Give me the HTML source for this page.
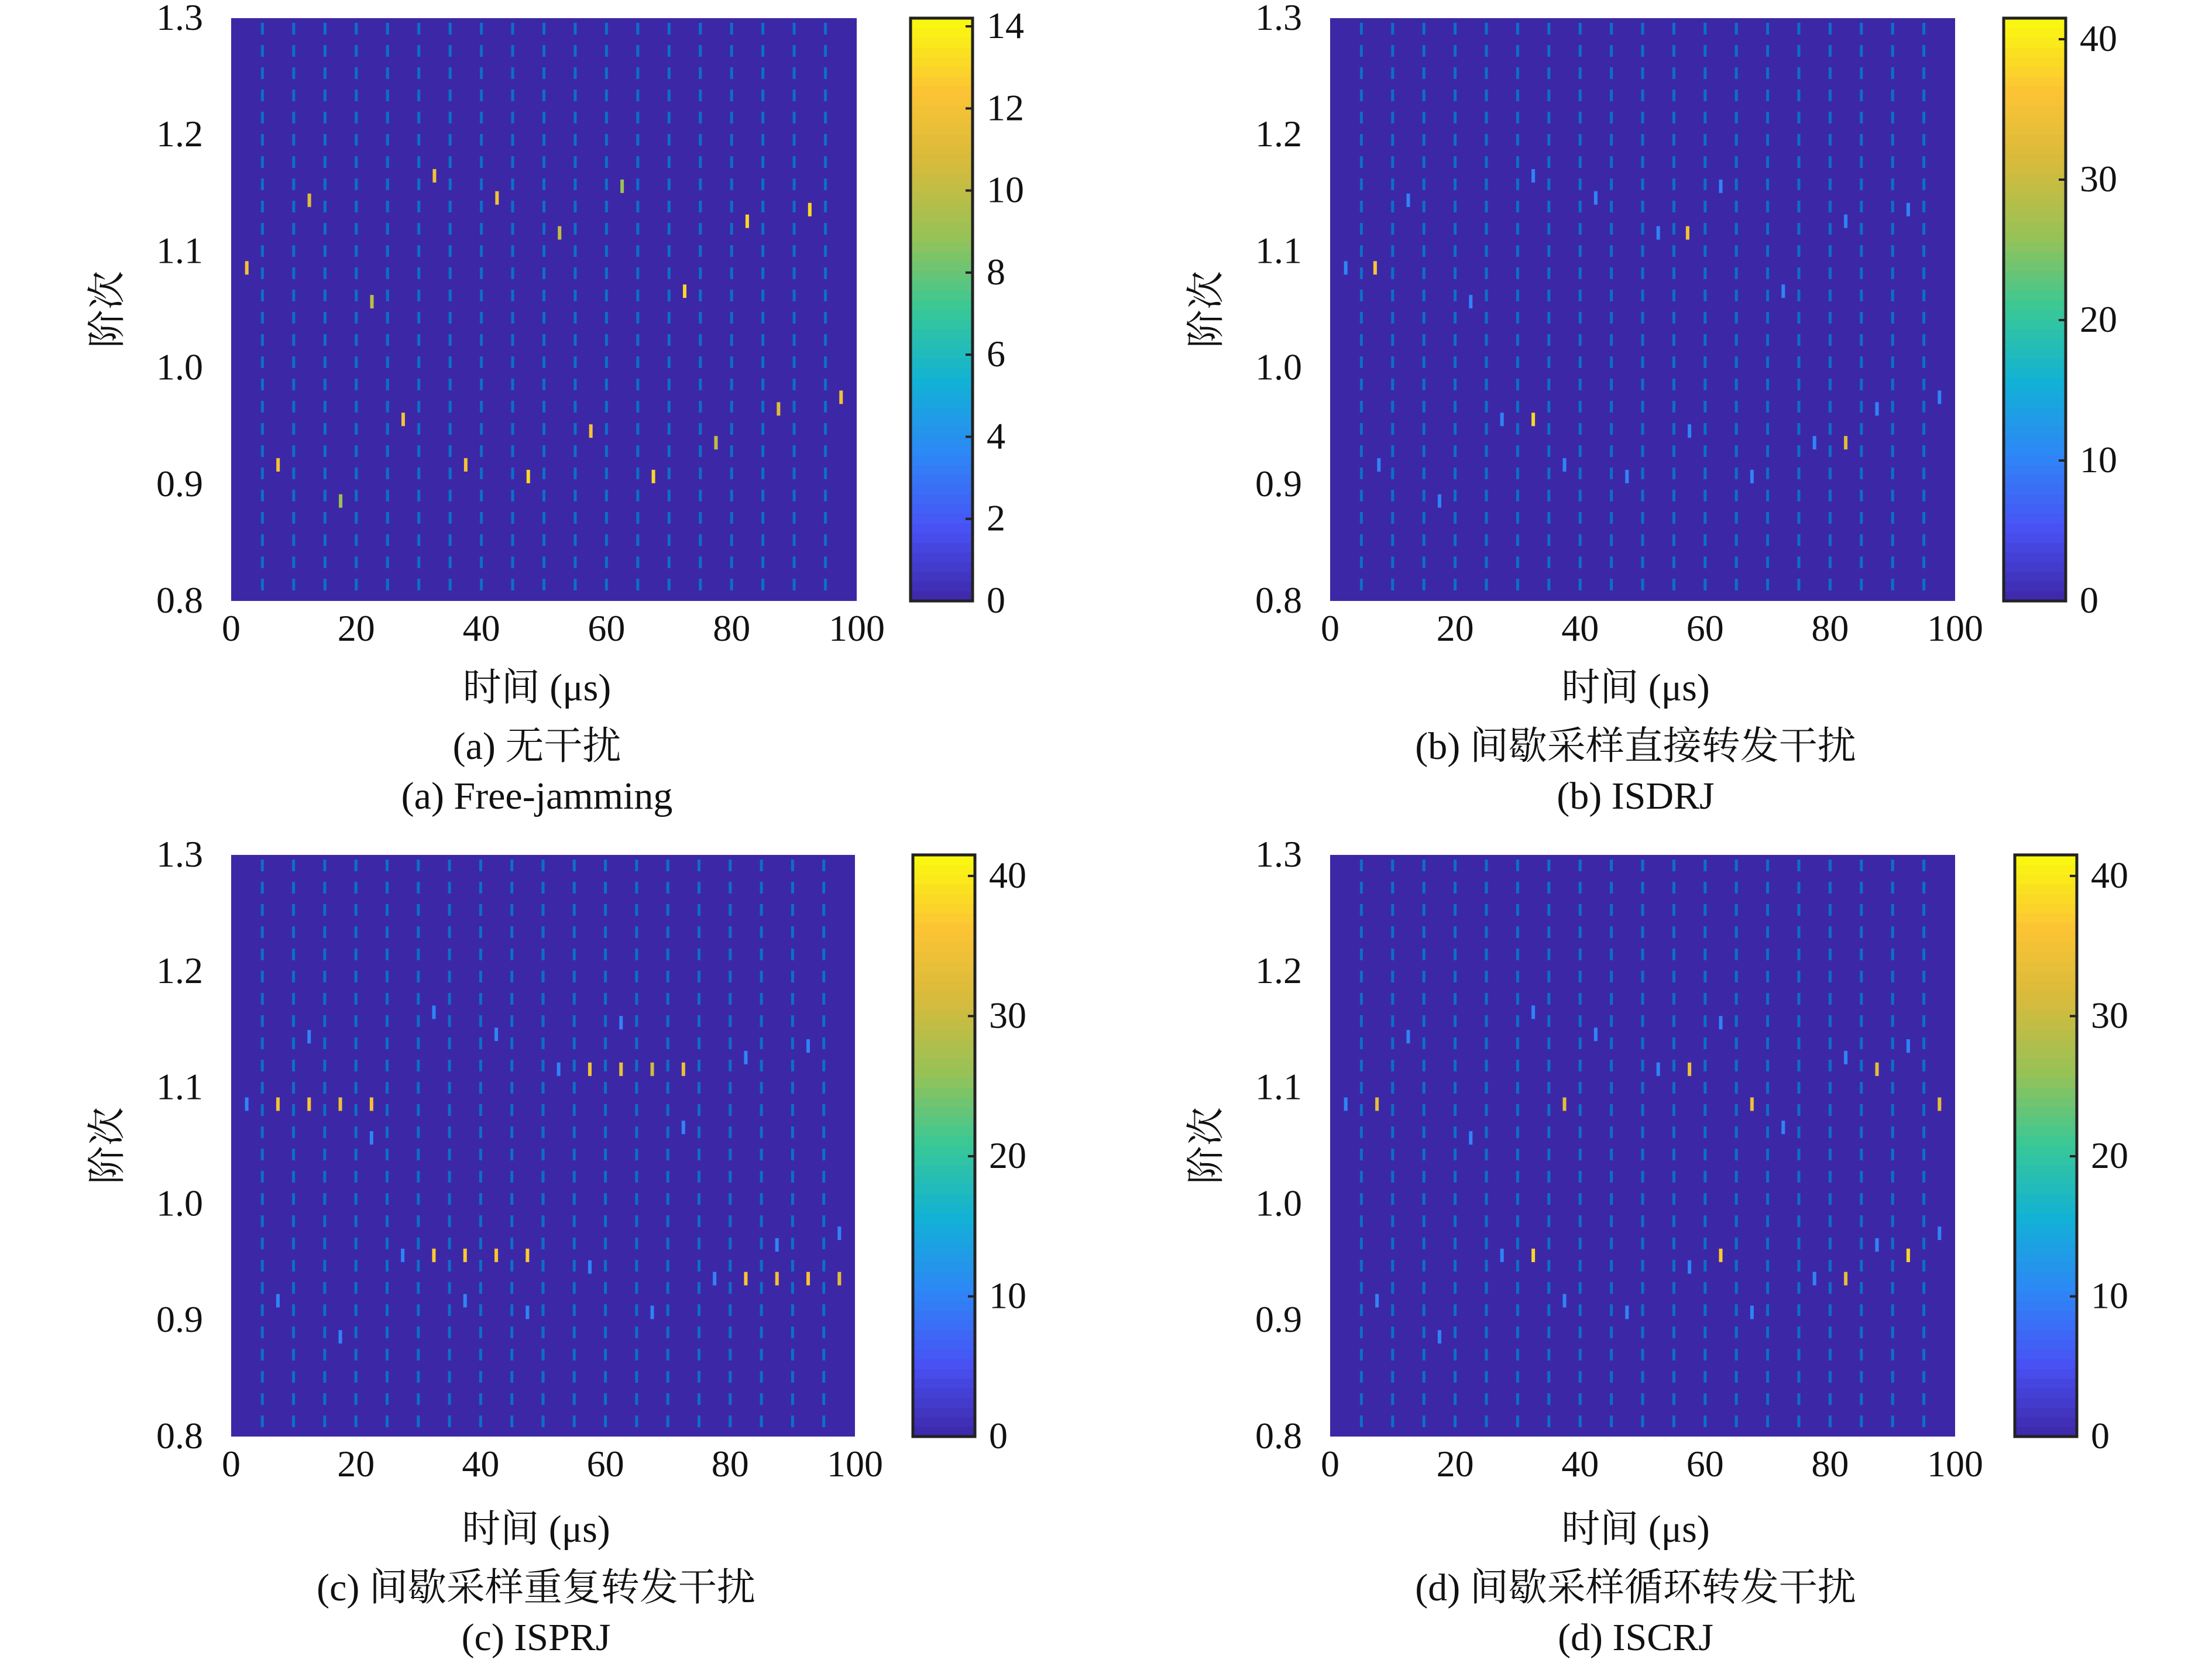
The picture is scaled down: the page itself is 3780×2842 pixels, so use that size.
<!DOCTYPE html>
<html><head><meta charset="utf-8"><style>
html,body{margin:0;padding:0;background:#fff;}
svg{display:block;}
text{font-family:"Liberation Serif","Noto Serif CJK SC",serif;fill:#111;}
</style></head><body>
<svg id="fig" width="3780" height="2842" viewBox="0 0 3780 2842" xmlns="http://www.w3.org/2000/svg"></svg>
<script>
// ---- data ----
const xTicks = [0,20,40,60,80,100];
const yTicks = [0.8,0.9,1.0,1.1,1.2,1.3];
const cbTicksA = [0,2,4,6,8,10,12,14];
const cbTicksB = [0,10,20,30,40];
const dashTimes = [5,10,15,20,25,30,35,40,45,50,55,60,65,70,75,80,85,90,95];

const aTimes  = [2.5,7.5,12.5,17.5,22.5,27.5,32.5,37.5,42.5,47.5,52.5,57.5,62.5,67.5,72.5,77.5,82.5,87.5,92.5,97.5];
const aOrders = [1.086,0.917,1.144,0.886,1.057,0.956,1.165,0.917,1.146,0.907,1.116,0.946,1.156,0.907,1.066,0.936,1.126,0.965,1.136,0.975];
const aValues = [12,12,11,9,10,12,12,12,12,13,10,12,9,13,13,10,13,11,13,12];

const bTimes  = [2.5,7.2,7.8,12.5,17.5,22.5,27.5,32.5,32.5,37.5,42.5,47.5,52.5,57.2,57.5,62.5,67.5,72.5,77.5,82.5,82.5,87.5,92.5,97.5];
const bOrders = [1.086,1.086,0.917,1.144,0.886,1.057,0.956,0.956,1.165,0.917,1.146,0.907,1.116,1.116,0.946,1.156,0.907,1.066,0.936,0.936,1.126,0.965,1.136,0.975];
const bValues = [10,36,10,10,10,10,10,38,10,10,10,10,10,35,10,10,10,10,10,32,10,10,10,10];

const cTimes  = [2.5,7.5,12.5,17.5,22.5,7.5,12.5,17.5,22.5,27.5,32.5,37.5,42.5,47.5,32.5,37.5,42.5,47.5,52.5,57.5,62.5,67.5,72.5,57.5,62.5,67.5,72.5,77.5,82.5,87.5,92.5,97.5,82.5,87.5,92.5,97.5];
const cOrders = [1.086,1.086,1.086,1.086,1.086,0.917,1.144,0.886,1.057,0.956,0.956,0.956,0.956,0.956,1.165,0.917,1.146,0.907,1.116,1.116,1.116,1.116,1.116,0.946,1.156,0.907,1.066,0.936,0.936,0.936,0.936,0.936,1.126,0.965,1.136,0.975];
const cValues = [10,35,36,34,35,10,10,10,10,10,37,37,36,37,10,10,10,10,10,35,34,31,34,10,10,10,10,10,36,35,36,33,10,10,10,10];

const dTimes  = [2.5,7.5,7.5,12.5,17.5,22.5,27.5,32.5,32.5,37.5,37.5,42.5,47.5,52.5,57.5,57.5,62.5,62.5,67.5,67.5,72.5,77.5,82.5,82.5,87.5,87.5,92.5,92.5,97.5,97.5];
const dOrders = [1.086,1.086,0.917,1.144,0.886,1.057,0.956,0.956,1.165,1.086,0.917,1.146,0.907,1.116,1.116,0.946,0.956,1.156,1.086,0.907,1.066,0.936,0.936,1.126,1.116,0.965,0.956,1.136,1.086,0.975];
const dValues = [10,33,10,10,10,10,10,38,10,33,10,10,10,10,34,10,37,10,34,10,10,10,33,10,33,10,38,10,33,10];

// ---- helpers ----
const NS="http://www.w3.org/2000/svg";
const svg=document.getElementById('fig');
function mk(tag,attrs,parent){const e=document.createElementNS(NS,tag);for(const k in attrs)e.setAttribute(k,attrs[k]);(parent||svg).appendChild(e);return e;}
const stops=[[0,[62,38,168]],[0.125,[72,82,244]],[0.25,[46,135,247]],[0.375,[18,177,214]],[0.5,[55,200,151]],[0.625,[151,194,86]],[0.75,[214,186,60]],[0.875,[252,196,52]],[1,[249,251,14]]];
function parula(f){f=Math.max(0,Math.min(1,f));for(let i=1;i<stops.length;i++){if(f<=stops[i][0]){const a=stops[i-1],b=stops[i];const t=(f-a[0])/(b[0]-a[0]);const c=a[1].map((v,j)=>Math.round(v+(b[1][j]-v)*t));return `rgb(${c[0]},${c[1]},${c[2]})`;}}return 'rgb(249,251,14)';}

function panel(p){
  const g=mk('g',{});
  
  
  const X=t=>p.x0+(t-0)/(100)*(p.x1-p.x0);
  const Y=o=>p.y1-(o-0.8)/(0.5)*(p.y1-p.y0);
  const bg=mk('rect',{x:p.x0,y:p.y0,width:p.x1-p.x0,height:p.y1-p.y0,fill:'rgb(60,40,166)'},g);
  
  
  dashTimes.forEach(t=>{
    const l=mk('line',{x1:X(t),x2:X(t),y1:p.y0+8,y2:p.y1,stroke:'rgb(12,111,200)','stroke-width':5,'stroke-dasharray':'20 18'},g);
    
    
  });
  p.times.forEach((t,i)=>{
    const r=mk('rect',{x:X(t)-3,y:Y(p.orders[i])-11,width:6,height:23,fill:parula(p.values[i]/p.vmax)},g);
    
    
  });
  xTicks.forEach(v=>{
    const t=mk('text',{x:X(v),y:p.y1+68,'font-size':64,'text-anchor':'middle'},g);t.textContent=String(v);
    
    
  });
  yTicks.forEach(v=>{
    const t=mk('text',{x:p.x0-48,y:Y(v)+20,'font-size':64,'text-anchor':'end'},g);t.textContent=v.toFixed(1);
    
    
  });
  const cx=(p.x0+p.x1)/2;
  const xl=mk('text',{x:cx-12,y:p.y1+170+p.dy,'font-size':66,'text-anchor':'middle'},g);xl.textContent='时间 (μs)';
  
  
  const yc=(p.y0+p.y1)/2;
  const yl=mk('text',{x:p.x0-190,y:yc,'font-size':66,'text-anchor':'middle',transform:`rotate(-90 ${p.x0-190} ${yc})`},g);yl.textContent='阶次';
  
  
  const c1=mk('text',{x:cx-12,y:p.y1+270+p.dy,'font-size':66,'text-anchor':'middle'},g);c1.textContent=p.cap1;
  
  
  const c2=mk('text',{x:cx-12,y:p.y1+355+p.dy,'font-size':66,'text-anchor':'middle'},g);c2.textContent=p.cap2;
  
  
  // colorbar
  const cb=mk('g',{},g);
  
  
  const N=60,h=(p.y1-p.y0)/N;
  for(let i=0;i<N;i++){mk('rect',{x:p.cb,y:p.y1-(i+1)*h-0.5,width:106,height:h+1,fill:parula((i+0.5)/N)},cb);}
  mk('rect',{x:p.cb,y:p.y0,width:106,height:p.y1-p.y0,fill:'none',stroke:'#222','stroke-width':5},cb);
  p.cbTicks.forEach(v=>{
    const yy=p.y1-v/p.vmax*(p.y1-p.y0);
    mk('line',{x1:p.cb+94,x2:p.cb+106,y1:yy,y2:yy,stroke:'#222','stroke-width':4},cb);
    const t=mk('text',{x:p.cb+130,y:yy+20,'font-size':64},cb);t.textContent=String(v);
    
    
  });
}
panel({name:'panel-a-free-jamming',x0:395,x1:1464,y0:31,y1:1027,cb:1556,dy:0,times:aTimes,orders:aOrders,values:aValues,vmax:14.2,cbTicks:cbTicksA,cap1:'(a) 无干扰',cap2:'(a) Free-jamming'});
panel({name:'panel-b-isdrj',x0:2273,x1:3341,y0:31,y1:1027,cb:3424,dy:0,times:bTimes,orders:bOrders,values:bValues,vmax:41.5,cbTicks:cbTicksB,cap1:'(b) 间歇采样直接转发干扰',cap2:'(b) ISDRJ'});
panel({name:'panel-c-isprj',x0:395,x1:1461,y0:1461,y1:2455,cb:1560,dy:10,times:cTimes,orders:cOrders,values:cValues,vmax:41.5,cbTicks:cbTicksB,cap1:'(c) 间歇采样重复转发干扰',cap2:'(c) ISPRJ'});
panel({name:'panel-d-iscrj',x0:2273,x1:3341,y0:1461,y1:2455,cb:3443,dy:10,times:dTimes,orders:dOrders,values:dValues,vmax:41.5,cbTicks:cbTicksB,cap1:'(d) 间歇采样循环转发干扰',cap2:'(d) ISCRJ'});
</script>
</body></html>
